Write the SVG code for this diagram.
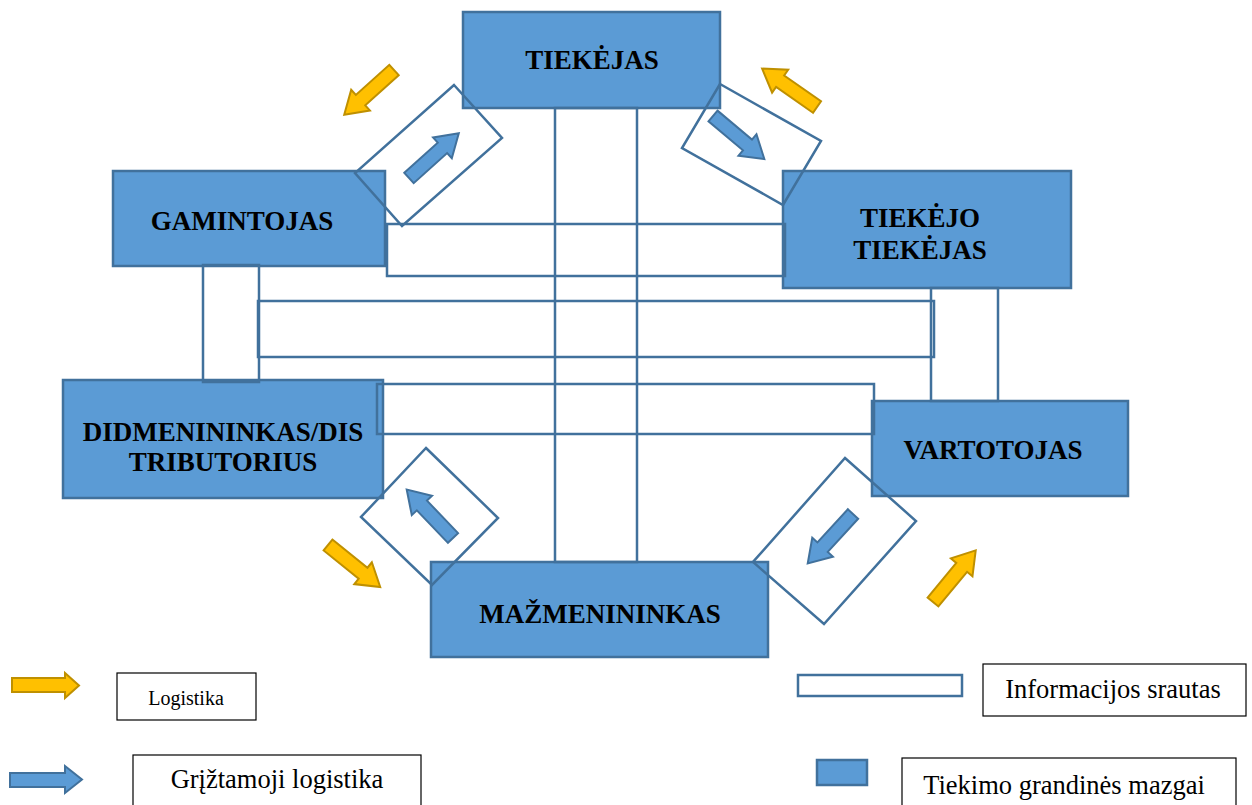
<svg xmlns="http://www.w3.org/2000/svg" xmlns:xlink="http://www.w3.org/1999/xlink" width="1252" height="805" viewBox="0 0 1252 805">
<style>
  .node rect { fill: #5B9BD5; stroke: #41719C; stroke-width: 2.5; }
  .node text { font-family: "Liberation Serif", "Times New Roman", serif; font-weight: bold; font-size: 27px; fill: #000; text-anchor: middle; }
  .info { fill: none; stroke: #41719C; stroke-width: 2.5; }
  .yel { fill: #FFC000; stroke: #BF9000; stroke-width: 2; }
  .blu { fill: #5B9BD5; stroke: #41719C; stroke-width: 2; }
  .lbox { fill: #fff; stroke: #000; stroke-width: 1.2; }
  .ltext { font-family: "Liberation Serif", "Times New Roman", serif; font-size: 26.5px; fill: #000; text-anchor: middle; }
</style>
<defs>
  <path id="arr" d="M0,-7 L45,-7 L45,-14 L67,0 L45,14 L45,7 L0,7 Z"/>
</defs>
<rect width="1252" height="805" fill="#fff"/>

<g id="nodes">
  <g id="n-tiekejas" class="node">
    <rect x="463" y="12" width="257" height="96"/>
    <text x="592" y="69">TIEKĖJAS</text>
  </g>
  <g id="n-gamintojas" class="node">
    <rect x="113" y="171" width="272" height="95"/>
    <text x="242" y="230">GAMINTOJAS</text>
  </g>
  <g id="n-tiekejo-tiekejas" class="node">
    <rect x="783" y="171" width="288" height="117"/>
    <text x="920" y="227">TIEKĖJO</text>
    <text x="920" y="259">TIEKĖJAS</text>
  </g>
  <g id="n-didmenininkas" class="node">
    <rect x="63" y="380" width="320" height="118"/>
    <text x="223" y="441">DIDMENININKAS/DIS</text>
    <text x="223" y="471">TRIBUTORIUS</text>
  </g>
  <g id="n-vartotojas" class="node">
    <rect x="872" y="401" width="256" height="95"/>
    <text x="993" y="459">VARTOTOJAS</text>
  </g>
  <g id="n-mazmenininkas" class="node">
    <rect x="431" y="562" width="337" height="95"/>
    <text x="600" y="623">MAŽMENININKAS</text>
  </g>
</g>

<g id="connectors">
  <g id="info-flows">
    <rect class="info" x="555" y="108" width="82" height="454"/>
    <rect class="info" x="387" y="224" width="398" height="52"/>
    <rect class="info" x="258" y="301" width="676" height="56"/>
    <rect class="info" x="377" y="384" width="497" height="50"/>
    <rect class="info" x="203" y="265" width="56" height="117"/>
    <rect class="info" x="931" y="288" width="67" height="113"/>
    <polygon class="info" points="454,85 502,138 402,226 355,173"/>
    <polygon class="info" points="720,84 821,141 783,205 682,148"/>
    <polygon class="info" points="426,448 498,518 432,585 361,517"/>
    <polygon class="info" points="845,458 916,521 824,624 753,562"/>
  </g>
  <g id="return-logistics">
    <use xlink:href="#arr" class="blu" transform="translate(409,178) rotate(-42)"/>
    <use xlink:href="#arr" class="blu" transform="translate(713,116) rotate(40)"/>
    <use xlink:href="#arr" class="blu" transform="translate(453,538) rotate(-133.7)"/>
    <use xlink:href="#arr" class="blu" transform="translate(853,514) rotate(132.5)"/>
  </g>
  <g id="logistics">
    <use xlink:href="#arr" class="yel" transform="translate(394,70) rotate(138)"/>
    <use xlink:href="#arr" class="yel" transform="translate(817,107) rotate(-145)"/>
    <use xlink:href="#arr" class="yel" transform="translate(328,545) rotate(38.8)"/>
    <use xlink:href="#arr" class="yel" transform="translate(933,602) rotate(-50.4)"/>
  </g>
</g>

<g id="legend">
  <g id="leg-logistika">
    <path class="yel" d="M12,678 L65,678 L65,673 L79,685.5 L65,698 L65,692 L12,692 Z"/>
    <rect class="lbox" x="117" y="673" width="139" height="47"/>
    <text class="ltext" x="186" y="705" style="font-size:20px">Logistika</text>
  </g>
  <g id="leg-grizt">
    <path class="blu" d="M10,773 L65,773 L65,766 L82,779.5 L65,793 L65,787 L10,787 Z"/>
    <rect class="lbox" x="133" y="755" width="288" height="56"/>
    <text class="ltext" x="277" y="788">Grįžtamoji logistika</text>
  </g>
  <g id="leg-info">
    <rect class="info" x="798" y="675" width="164" height="21"/>
    <rect class="lbox" x="983" y="664" width="263" height="52"/>
    <text class="ltext" x="1113" y="698">Informacijos srautas</text>
  </g>
  <g id="leg-mazgai">
    <rect x="817" y="760" width="50" height="25" fill="#5B9BD5" stroke="#41719C" stroke-width="2.5"/>
    <rect class="lbox" x="902" y="758" width="334" height="56"/>
    <text class="ltext" x="1064" y="794">Tiekimo grandinės mazgai</text>
  </g>
</g>
</svg>
